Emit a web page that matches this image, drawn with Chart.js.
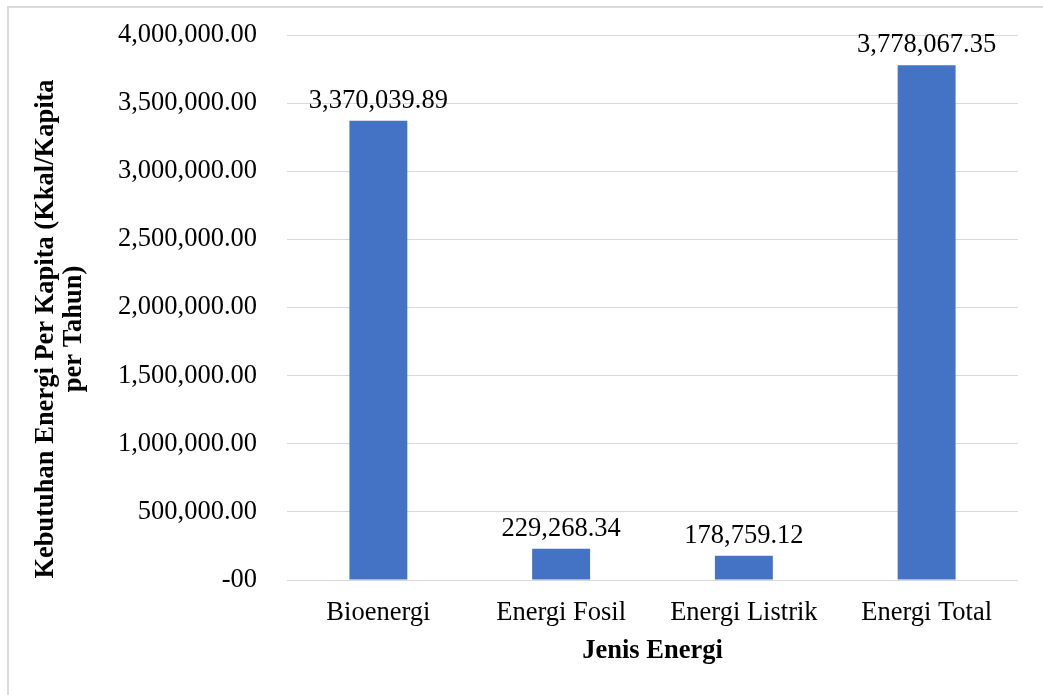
<!DOCTYPE html>
<html>
<head>
<meta charset="utf-8">
<script src="https://cdn.jsdelivr.net/npm/chart.js@4/dist/chart.umd.min.js"></script>
<style>
  html, body { margin: 0; padding: 0; background: #ffffff; }
  #wrap { position: relative; width: 1043px; height: 695px; }
  canvas { display: block; }
</style>
</head>
<body>
<div id="wrap"><canvas id="c" width="1043" height="695"></canvas></div>
<script>
const categories = ['Bioenergi', 'Energi Fosil', 'Energi Listrik', 'Energi Total'];
const values = [3370039.89, 229268.34, 178759.12, 3778067.35];
const yTitleLines = ['Kebutuhan Energi Per Kapita (Kkal/Kapita', 'per Tahun)'];
const xTitle = 'Jenis Energi';

const FONT = "'Liberation Serif', 'Times New Roman', serif";
const FS = 26.5;

function fmt(v) {
  if (v === 0) return '-00';
  return v.toLocaleString('en-US', { minimumFractionDigits: 2, maximumFractionDigits: 2 });
}

const frame = {
  id: 'frame',
  beforeDraw(chart) {
    const ctx = chart.ctx;
    ctx.save();
    ctx.fillStyle = '#ffffff';
    ctx.fillRect(0, 0, chart.width, chart.height);
    ctx.strokeStyle = '#d9d9d9';
    ctx.lineWidth = 2;
    ctx.beginPath();
    ctx.moveTo(8, chart.height);
    ctx.lineTo(8, 7);
    ctx.lineTo(chart.width, 7);
    ctx.stroke();
    ctx.restore();
  },
  afterDraw(chart) {
    // rotated two-line y-axis title
    const ctx = chart.ctx;
    ctx.save();
    ctx.fillStyle = '#000000';
    ctx.font = 'bold ' + FS + 'px ' + FONT;
    ctx.textAlign = 'center';
    ctx.textBaseline = 'alphabetic';
    const cy = 329;
    const xs = [53, 81];
    yTitleLines.forEach((line, i) => {
      ctx.save();
      ctx.translate(xs[i], cy);
      ctx.rotate(-Math.PI / 2);
      ctx.fillText(line, 0, 0);
      ctx.restore();
    });
    ctx.restore();
  }
};

const dataLabels = {
  id: 'dataLabels',
  afterDatasetsDraw(chart) {
    const ctx = chart.ctx;
    const meta = chart.getDatasetMeta(0);
    ctx.save();
    ctx.font = FS + 'px ' + FONT;
    ctx.fillStyle = '#000000';
    ctx.textAlign = 'center';
    ctx.textBaseline = 'alphabetic';
    meta.data.forEach((bar, i) => {
      ctx.fillText(fmt(chart.data.datasets[0].data[i]), bar.x, bar.y - 13);
    });
    ctx.restore();
  }
};

new Chart(document.getElementById('c'), {
  type: 'bar',
  data: {
    labels: categories,
    datasets: [{
      data: values,
      backgroundColor: '#4472C4',
      borderWidth: 0,
      barPercentage: 1,
      categoryPercentage: 0.317
    }]
  },
  options: {
    responsive: false,
    animation: false,
    devicePixelRatio: 1,
    layout: { padding: { top: 35, right: 25, bottom: 0, left: 0 } },
    plugins: { legend: { display: false }, tooltip: { enabled: false } },
    scales: {
      x: {
        grid: { display: false, drawTicks: false },
        border: { display: false },
        ticks: { color: '#000000', padding: 17, font: { family: FONT, size: FS, lineHeight: 1.2 } },
        title: {
          display: true, text: xTitle, color: '#000000',
          font: { family: FONT, size: FS, weight: 'bold', lineHeight: 1.2 },
          padding: { top: 0, bottom: 28 }
        },
        afterFit(scale) { scale.height = 115; }
      },
      y: {
        min: 0, max: 4000000,
        grid: { color: '#d9d9d9', lineWidth: 1, drawTicks: false },
        border: { display: false },
        ticks: {
          stepSize: 500000, color: '#000000', padding: 30,
          font: { family: FONT, size: FS },
          callback: (v) => fmt(v)
        },
        title: { display: false },
        afterFit(scale) {
          scale.width = 287;
          scale.paddingTop = 0;
          scale.paddingBottom = 0;
        }
      }
    }
  },
  plugins: [frame, dataLabels]
});
</script>
</body>
</html>
